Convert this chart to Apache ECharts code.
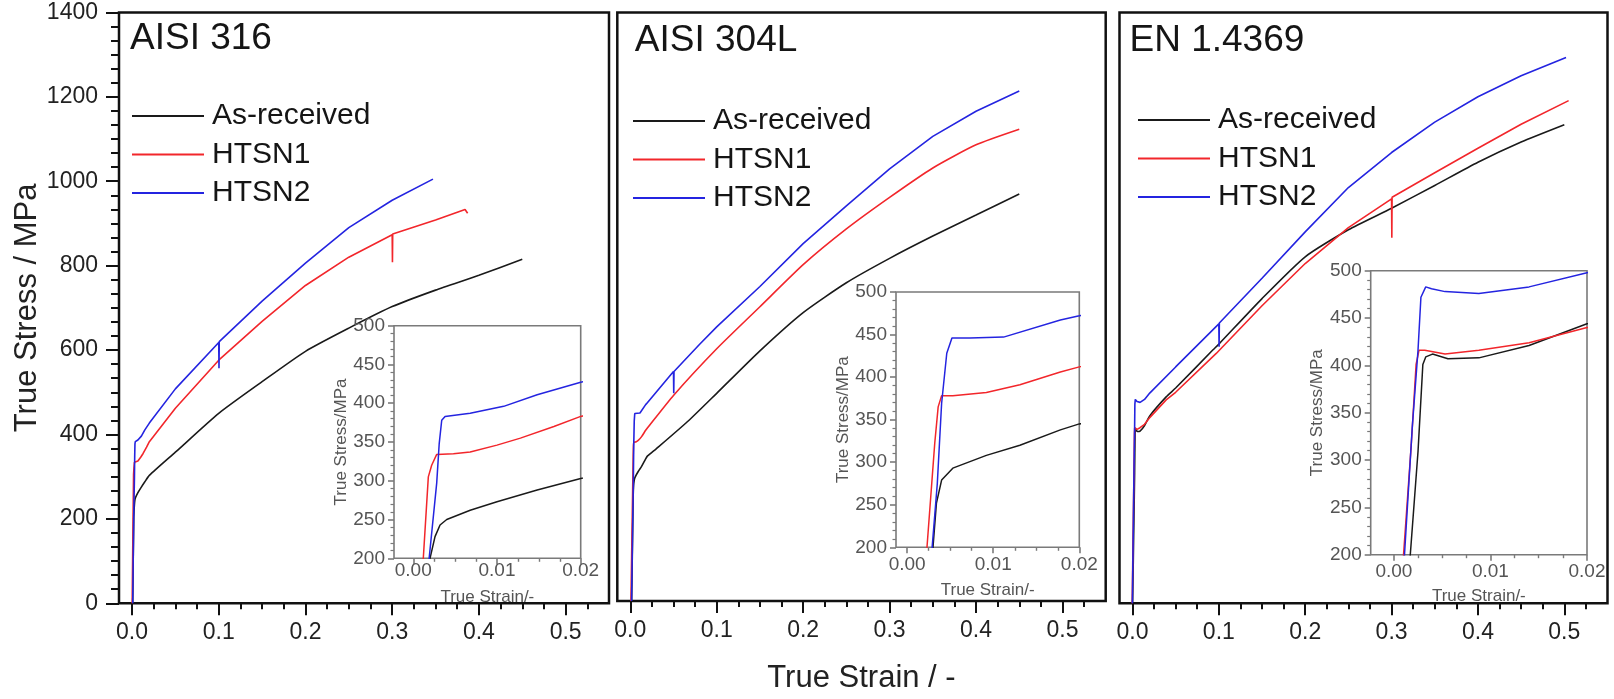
<!DOCTYPE html>
<html><head><meta charset="utf-8">
<script src="https://cdn.jsdelivr.net/npm/echarts@6/dist/echarts.min.js"></script>
<style>html,body{margin:0;padding:0;background:#fff}#c{width:1614px;height:699px}</style>
</head><body><div id="c"></div>
<script>
// ---------- data ----------
const seriesNames = ['As-received', 'HTSN1', 'HTSN2'];
const panelTitles = ['AISI 316', 'AISI 304L', 'EN 1.4369'];
const mainXTicks = [0, 0.1, 0.2, 0.3, 0.4, 0.5];
const insetXTicks = [0, 0.01, 0.02];

// [true strain, true stress MPa]
const aisi316_asReceived = [[0.0008,0],[0.002,200],[0.0026,228],[0.0032,243],[0.004,250],[0.0068,262],[0.01,273],[0.0148,288],[0.02,303],[0.05,358],[0.1,450],[0.15,525],[0.2,597],[0.25,652],[0.3,703],[0.35,742],[0.4,777],[0.45,815]];
const aisi316_htsn1 = [[0.0002,0],[0.0012,200],[0.0018,305],[0.0022,320],[0.0028,334],[0.0048,335],[0.0068,337],[0.01,346],[0.0128,355],[0.0168,370],[0.02,383],[0.05,462],[0.1,576],[0.15,668],[0.2,753],[0.25,820],[0.3,873],[0.3003,808],[0.3006,875],[0.35,908],[0.384,933],[0.387,924]];
const aisi316_htsn2 = [[0.0008,0],[0.0019,200],[0.0028,297],[0.0031,348],[0.0034,378],[0.0038,383],[0.0068,387],[0.0108,396],[0.0148,411],[0.02,427],[0.05,508],[0.1,618],[0.1003,557],[0.1006,620],[0.15,716],[0.2,806],[0.25,890],[0.3,955],[0.347,1005]];

const aisi304L_asReceived = [[0.0016,0],[0.003,200],[0.0034,252],[0.004,279],[0.0053,293],[0.0092,308],[0.0131,320],[0.0178,338],[0.02,345],[0.03,362],[0.068,430],[0.1,494],[0.15,595],[0.2,686],[0.25,757],[0.3,815],[0.35,868],[0.4,918],[0.45,968]];
const aisi304L_htsn1 = [[0.0008,0],[0.0023,200],[0.0032,322],[0.0036,365],[0.004,378],[0.0053,378],[0.0092,382],[0.0131,391],[0.0178,406],[0.02,412],[0.05,489],[0.1,600],[0.15,700],[0.2,800],[0.25,885],[0.3,960],[0.35,1030],[0.4,1085],[0.45,1122]];
const aisi304L_htsn2 = [[0.0015,0],[0.0029,200],[0.0035,275],[0.004,369],[0.0046,428],[0.0052,446],[0.0073,446],[0.0112,447],[0.0178,467],[0.02,472],[0.05,546],[0.0503,494],[0.0506,546],[0.08,610],[0.1,652],[0.15,748],[0.2,850],[0.25,940],[0.3,1028],[0.35,1105],[0.4,1165],[0.45,1213]];

const en14369_asReceived = [[0.0002,0],[0.0017,200],[0.0025,309],[0.003,401],[0.0033,409],[0.004,412],[0.0056,407],[0.0088,408],[0.014,421],[0.02,444],[0.039,489],[0.05,510],[0.093,600],[0.1,614],[0.15,722],[0.2,821],[0.25,885],[0.3,936],[0.35,990],[0.4,1045],[0.45,1093],[0.5,1134]];
const en14369_htsn1 = [[-0.0003,0],[0.001,200],[0.0018,316],[0.0023,401],[0.0026,416],[0.0032,416],[0.0053,412],[0.0088,416],[0.014,424],[0.02,440],[0.039,482],[0.05,500],[0.097,592],[0.15,705],[0.2,805],[0.25,890],[0.3,958],[0.3003,866],[0.3006,962],[0.35,1020],[0.4,1078],[0.45,1135],[0.505,1191]];
const en14369_htsn2 = [[-0.0001,0],[0.0011,200],[0.0019,334],[0.0025,416],[0.0028,472],[0.0033,483],[0.0039,481],[0.0053,478],[0.0088,476],[0.014,483],[0.02,498],[0.05,560],[0.1,662],[0.1003,608],[0.1006,664],[0.15,770],[0.2,880],[0.25,985],[0.3,1068],[0.35,1140],[0.4,1200],[0.45,1250],[0.502,1293]];

const panelData = [
  [aisi316_asReceived, aisi316_htsn1, aisi316_htsn2],
  [aisi304L_asReceived, aisi304L_htsn1, aisi304L_htsn2],
  [en14369_asReceived, en14369_htsn1, en14369_htsn2]
];

// ---------- layout / style ----------
const FONT = 'Liberation Sans, Arial, sans-serif';
const colors = ['#1a1a1a', '#f2262b', '#2424e0'];
const mainGrids = [
  {left: 119, top: 12.4, width: 490, height: 590.9},
  {left: 617.3, top: 12.4, width: 488.4, height: 590.9},
  {left: 1119.5, top: 12.4, width: 488, height: 590.9}
];
const insetGrids = [
  {left: 394, top: 325.7, width: 186.7, height: 232.6},
  {left: 896, top: 292, width: 183.3, height: 255.3},
  {left: 1370.7, top: 270.8, width: 216.3, height: 283.9}
];
const insetXMin = [-0.0023, -0.0013, -0.0024];
const insetLabelMargin = [3, 8, 8];
const insetNameGap = [31, 35, 33];
const insetYNameGap = [35, 41, 33];
const titlePos = [[130, 39], [634.8, 41], [1129.5, 41]];
const legendPos = [[127, 96], [628, 101], [1133, 100]];

function minorList(step, majorStep, maxV) {
  const out = [];
  for (let i = 1; i * step <= maxV + 1e-9; i++) {
    const v = +(i * step).toFixed(6);
    const r = v / majorStep;
    if (Math.abs(r - Math.round(r)) > 1e-6) out.push(v);
  }
  return out;
}
const mainMinor = minorList(0.025, 0.1, 0.54);
const insetMinor = minorList(0.0025, 0.01, 0.0199);

// a curve with an abrupt vertical drop (unloading glitch) is drawn unsmoothed
function hasGlitch(d) {
  for (let i = 1; i < d.length; i++) if (d[i][0] - d[i - 1][0] < 0.0005 && d[i][1] < d[i - 1][1] - 20) return true;
  return false;
}

const grid = [];
const xAxis = [];
const yAxis = [];
const series = [];
const legend = [];
const graphic = [];
const noLine = {show: false, onZero: false};

mainGrids.forEach(g => grid.push(Object.assign({show: true, borderColor: '#111', borderWidth: 2.5, backgroundColor: 'transparent', containLabel: false}, g)));
insetGrids.forEach(g => grid.push(Object.assign({show: true, borderColor: '#7a7a7a', borderWidth: 1.6, backgroundColor: '#fff', containLabel: false, z: 5}, g)));

for (let p = 0; p < 3; p++) {
  const mx = {
    gridIndex: p, type: 'value', min: -0.015, max: 0.55,
    axisLine: noLine, splitLine: {show: false},
    axisTick: {show: true, customValues: mainXTicks, length: 12, lineStyle: {color: '#111', width: 2}},
    axisLabel: {customValues: mainXTicks, formatter: v => v.toFixed(1), fontSize: 23, color: '#222', fontFamily: FONT, margin: 18}
  };
  if (p === 1) {
    Object.assign(mx, {name: 'True Strain / -', nameLocation: 'middle', nameGap: 62,
      nameTextStyle: {fontSize: 31, color: '#222', fontFamily: FONT}});
  }
  xAxis.push(mx);
  xAxis.push({
    gridIndex: p, type: 'value', min: -0.015, max: 0.55, position: 'bottom', offset: 0,
    axisLine: noLine, splitLine: {show: false}, axisLabel: {show: false},
    axisTick: {show: true, customValues: mainMinor, length: 6, lineStyle: {color: '#111', width: 2}}
  });
  const my = {
    gridIndex: p, type: 'value', min: 0, max: 1400, interval: 200,
    axisLine: noLine, splitLine: {show: false}
  };
  if (p === 0) {
    Object.assign(my, {
      axisTick: {show: true, length: 13, lineStyle: {color: '#111', width: 2}},
      minorTick: {show: true, splitNumber: 6, length: 8, lineStyle: {color: '#111', width: 2}},
      axisLabel: {fontSize: 23, color: '#222', fontFamily: FONT, margin: 21, formatter: v => String(v)},
      name: 'True Stress / MPa', nameLocation: 'middle', nameGap: 67,
      nameTextStyle: {fontSize: 31, color: '#222', fontFamily: FONT}
    });
  } else {
    Object.assign(my, {axisTick: {show: false}, axisLabel: {show: false}});
  }
  yAxis.push(my);
}
for (let p = 0; p < 3; p++) {
  xAxis.push({
    gridIndex: 3 + p, type: 'value', min: insetXMin[p], max: 0.02,
    axisLine: noLine, splitLine: {show: false},
    axisTick: {show: true, customValues: insetXTicks, length: 6, lineStyle: {color: '#7a7a7a', width: 1.6}},
    axisLabel: {customValues: insetXTicks, formatter: v => v.toFixed(2), fontSize: 19, color: '#555', fontFamily: FONT, margin: insetLabelMargin[p]},
    name: 'True Strain/-', nameLocation: 'middle', nameGap: insetNameGap[p],
    nameTextStyle: {fontSize: 17, color: '#555', fontFamily: FONT}, z: 6
  });
  xAxis.push({
    gridIndex: 3 + p, type: 'value', min: insetXMin[p], max: 0.02, position: 'bottom', offset: 0,
    axisLine: noLine, splitLine: {show: false}, axisLabel: {show: false},
    axisTick: {show: true, customValues: insetMinor, length: 3.5, lineStyle: {color: '#7a7a7a', width: 1.4}}, z: 6
  });
  yAxis.push({
    gridIndex: 3 + p, type: 'value', min: 200, max: 500, interval: 50,
    axisLine: noLine, splitLine: {show: false},
    axisTick: {show: true, length: 6, lineStyle: {color: '#7a7a7a', width: 1.6}},
    minorTick: {show: true, splitNumber: 5, length: 3.5, lineStyle: {color: '#7a7a7a', width: 1.2}},
    axisLabel: {fontSize: 19, color: '#555', fontFamily: FONT, margin: 9},
    name: 'True Stress/MPa', nameLocation: 'middle', nameGap: insetYNameGap[p],
    nameTextStyle: {fontSize: 17, color: '#555', fontFamily: FONT}, z: 6
  });
}

for (let p = 0; p < 3; p++) {
  for (let k = 0; k < 3; k++) {
    const d = panelData[p][k];
    const base = {
      name: seriesNames[k], type: 'line', data: d, color: colors[k],
      showSymbol: false, symbol: 'none', animation: false, clip: true
    };
    series.push(Object.assign({}, base, {xAxisIndex: 2 * p, yAxisIndex: p, z: 2,
      smooth: hasGlitch(d) ? false : 0.2, lineStyle: {color: colors[k], width: 1.6}}));
    series.push(Object.assign({}, base, {xAxisIndex: 6 + 2 * p, yAxisIndex: 3 + p, z: 7,
      smooth: false, lineStyle: {color: colors[k], width: 1.5}}));
  }
  legend.push({
    left: legendPos[p][0], top: legendPos[p][1], orient: 'vertical', data: seriesNames,
    icon: 'rect', itemWidth: 72, itemHeight: 2, itemGap: 8.5, selectedMode: false,
    textStyle: {fontSize: 30, color: '#151515', fontFamily: FONT, lineHeight: 30, padding: [0, 0, 0, 3]}
  });
  graphic.push({
    type: 'text', x: titlePos[p][0], y: titlePos[p][1], z: 10,
    style: {text: panelTitles[p], fontSize: 37, fontFamily: FONT, fill: '#151515', verticalAlign: 'middle', align: 'left'}
  });
}

const chart = echarts.init(document.getElementById('c'), null, {renderer: 'canvas'});
chart.setOption({
  animation: false, backgroundColor: '#fff',
  grid, xAxis, yAxis, series, legend, graphic
});
</script></body></html>
